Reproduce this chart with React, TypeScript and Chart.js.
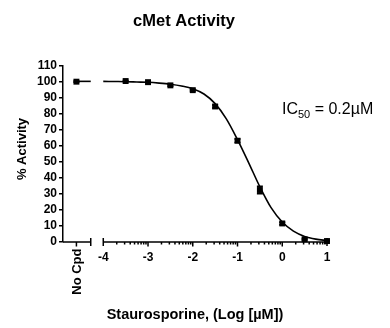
import React, { useEffect, useRef } from "react";
import { Chart, registerables } from "chart.js";

Chart.register(...registerables);

// ---- data ----
const titleText = "cMet Activity";
const yTitle = "% Activity";
const xTitle = "Staurosporine, (Log [\u00B5M])";
const noCpdLabel = "No Cpd";

const doseLogX = [-3.5, -3, -2.5, -2, -1.5, -1, -0.5, 0, 0.5, 1];
const activity = [100.6, 99.9, 97.9, 94.9, 84.7, 63.3, 32.5, 11.6, 1.7, 0.6];
const activityErr = [0.3, 0.4, 0.6, 0.6, 0.9, 1.1, 2.4, 0.8, 0.5, 0.3];

const noCpdX = -4.6;
const noCpdActivity = 100.2;
const noCpdErr = 0.4;

const fitX = [-4, -3.75, -3.5, -3.25, -3, -2.75, -2.5, -2.25, -2, -1.75, -1.5, -1.25, -1, -0.75, -0.5, -0.25, 0, 0.25, 0.5, 0.75, 1];
const fitY = [100.4, 100.3, 100.2, 100.0, 99.8, 99.3, 98.6, 97.5, 95.8, 92.5, 86.5, 77.0, 64.0, 49.5, 34.5, 21.5, 12.5, 6.8, 3.5, 1.8, 0.9];

const noCpdFitX = [-4.6, -4.28];
const noCpdFitY = [100.4, 100.4];

const xMajorTicks = [-4, -3, -2, -1, 0, 1];
const yTicks = [0, 10, 20, 30, 40, 50, 60, 70, 80, 90, 100, 110];

const ic50Label = { main: "IC", sub: "50", rest: " = 0.2\u00B5M" };

const X_MIN = -4.9;
const X_MAX = 1;
const BREAK_END = -4.28;
const FONT = "'Liberation Sans', Arial, sans-serif";

const overlayPlugin = {
  id: "overlay",
  afterDatasetsDraw(chart: any) {
    const ctx = chart.ctx as CanvasRenderingContext2D;
    const xs = chart.scales.x;
    const ys = chart.scales.y;
    ctx.save();
    ctx.strokeStyle = "#000";
    ctx.lineWidth = 1.5;
    const drawErr = (xv: number, yv: number, e: number) => {
      const px = xs.getPixelForValue(xv);
      const top = ys.getPixelForValue(yv + e);
      const bot = ys.getPixelForValue(yv - e);
      ctx.beginPath();
      ctx.moveTo(px, top);
      ctx.lineTo(px, bot);
      ctx.moveTo(px - 3, top);
      ctx.lineTo(px + 3, top);
      ctx.moveTo(px - 3, bot);
      ctx.lineTo(px + 3, bot);
      ctx.stroke();
    };
    doseLogX.forEach((xv, i) => drawErr(xv, activity[i], activityErr[i]));
    drawErr(noCpdX, noCpdActivity, noCpdErr);
    ctx.restore();
  },
  afterDraw(chart: any) {
    const ctx = chart.ctx as CanvasRenderingContext2D;
    const xs = chart.scales.x;
    const ys = chart.scales.y;
    const y0 = ys.getPixelForValue(0);
    ctx.save();
    ctx.strokeStyle = "#000";
    ctx.fillStyle = "#000";
    ctx.lineWidth = 1.5;

    const s1a = xs.getPixelForValue(X_MIN);
    const s1b = xs.getPixelForValue(BREAK_END);
    ctx.beginPath();
    ctx.moveTo(s1a, y0);
    ctx.lineTo(s1b, y0);
    ctx.moveTo(s1b, y0 - 4);
    ctx.lineTo(s1b, y0 + 4);
    const nc = xs.getPixelForValue(noCpdX);
    ctx.moveTo(nc, y0);
    ctx.lineTo(nc, y0 + 4.5);
    ctx.stroke();

    const s2a = xs.getPixelForValue(xMajorTicks[0]);
    const s2b = xs.getPixelForValue(xMajorTicks[xMajorTicks.length - 1]);
    ctx.beginPath();
    ctx.moveTo(s2a, y0);
    ctx.lineTo(s2b, y0);
    ctx.moveTo(s2a, y0 - 4);
    ctx.lineTo(s2a, y0 + 4);
    ctx.moveTo(s2b, y0 - 4);
    ctx.lineTo(s2b, y0 + 4);
    for (let k = 1; k < xMajorTicks.length - 1; k++) {
      const p = xs.getPixelForValue(xMajorTicks[k]);
      ctx.moveTo(p, y0);
      ctx.lineTo(p, y0 + 4.5);
    }
    for (let k = 0; k < xMajorTicks.length - 1; k++) {
      for (let m = 2; m <= 9; m++) {
        const p = xs.getPixelForValue(xMajorTicks[k] + Math.log10(m));
        ctx.moveTo(p, y0);
        ctx.lineTo(p, y0 + 2.5);
      }
    }
    ctx.stroke();

    ctx.font = `bold 12px ${FONT}`;
    ctx.textAlign = "center";
    ctx.textBaseline = "middle";
    xMajorTicks.forEach((t) => {
      ctx.fillText(String(t), xs.getPixelForValue(t), y0 + 15.5);
    });

    ctx.save();
    ctx.translate(nc, y0 + 6.5);
    ctx.rotate(-Math.PI / 2);
    ctx.font = `bold 13px ${FONT}`;
    ctx.textAlign = "right";
    ctx.textBaseline = "middle";
    ctx.fillText(noCpdLabel, 0, 0.5);
    ctx.restore();

    ctx.font = `bold 14.5px ${FONT}`;
    ctx.textAlign = "center";
    ctx.textBaseline = "middle";
    ctx.fillText(xTitle, 195, 315);

    ctx.save();
    ctx.translate(22, 149);
    ctx.rotate(-Math.PI / 2);
    ctx.font = `bold 13px ${FONT}`;
    ctx.textAlign = "center";
    ctx.textBaseline = "middle";
    ctx.fillText(yTitle, 0, 0);
    ctx.restore();

    ctx.font = `bold 16.5px ${FONT}`;
    ctx.textAlign = "center";
    ctx.textBaseline = "middle";
    ctx.fillText(titleText, 184, 21);

    ctx.textAlign = "left";
    ctx.textBaseline = "alphabetic";
    let x = 282;
    ctx.font = `16px ${FONT}`;
    ctx.fillText(ic50Label.main, x, 113.5);
    x += ctx.measureText(ic50Label.main).width;
    ctx.font = `11px ${FONT}`;
    ctx.fillText(ic50Label.sub, x, 118);
    x += ctx.measureText(ic50Label.sub).width;
    ctx.font = `16px ${FONT}`;
    ctx.fillText(ic50Label.rest, x, 113.5);
    ctx.restore();
  },
};

export default function App() {
  const ref = useRef<HTMLCanvasElement | null>(null);
  useEffect(() => {
    const canvas = ref.current;
    if (!canvas) return;
    const chart = new Chart(canvas, {
      type: "scatter",
      data: {
        datasets: [
          {
            label: "fit",
            data: fitX.map((x, i) => ({ x, y: fitY[i] })),
            showLine: true,
            borderColor: "#000",
            borderWidth: 1.6,
            pointRadius: 0,
            cubicInterpolationMode: "monotone",
            clip: false,
          } as any,
          {
            label: "fitNoCpd",
            data: noCpdFitX.map((x, i) => ({ x, y: noCpdFitY[i] })),
            showLine: true,
            borderColor: "#000",
            borderWidth: 1.6,
            pointRadius: 0,
            clip: false,
          } as any,
          {
            label: "activity",
            data: doseLogX.map((x, i) => ({ x, y: activity[i] })),
            showLine: false,
            pointStyle: "rect",
            pointRadius: 4.2,
            pointBackgroundColor: "#000",
            pointBorderColor: "#000",
            pointBorderWidth: 0,
            clip: false,
          } as any,
          {
            label: "noCpd",
            data: [{ x: noCpdX, y: noCpdActivity }],
            showLine: false,
            pointStyle: "rect",
            pointRadius: 4.2,
            pointBackgroundColor: "#000",
            pointBorderColor: "#000",
            pointBorderWidth: 0,
            clip: false,
          } as any,
        ],
      },
      options: {
        responsive: false,
        animation: false,
        layout: { padding: { left: 0, top: 66, right: 63, bottom: 86 } },
        plugins: {
          legend: { display: false },
          tooltip: { enabled: false },
          title: { display: false },
        },
        scales: {
          x: {
            type: "linear",
            min: X_MIN,
            max: X_MAX,
            display: false,
          },
          y: {
            type: "linear",
            min: 0,
            max: 110,
            afterFit: (scale: any) => {
              scale.width = 63;
            },
            afterBuildTicks: (scale: any) => {
              scale.ticks = yTicks.map((v) => ({ value: v }));
            },
            ticks: {
              color: "#000",
              padding: 2,
              stepSize: 10,
              autoSkip: false,
              font: { family: FONT, size: 12, weight: "bold" },
            },
            grid: {
              display: true,
              drawOnChartArea: false,
              drawTicks: true,
              tickLength: 4,
              color: "#000",
              lineWidth: 1.5,
            },
            border: { display: true, color: "#000", width: 1.5 },
          },
        },
      },
      plugins: [overlayPlugin],
    } as any);
    return () => chart.destroy();
  }, []);
  return (
    <div style={{ position: "fixed", left: 0, top: 0, width: 390, height: 328, background: "#fff" }}>
      <canvas ref={ref} width={390} height={328} style={{ display: "block" }} />
    </div>
  );
}
